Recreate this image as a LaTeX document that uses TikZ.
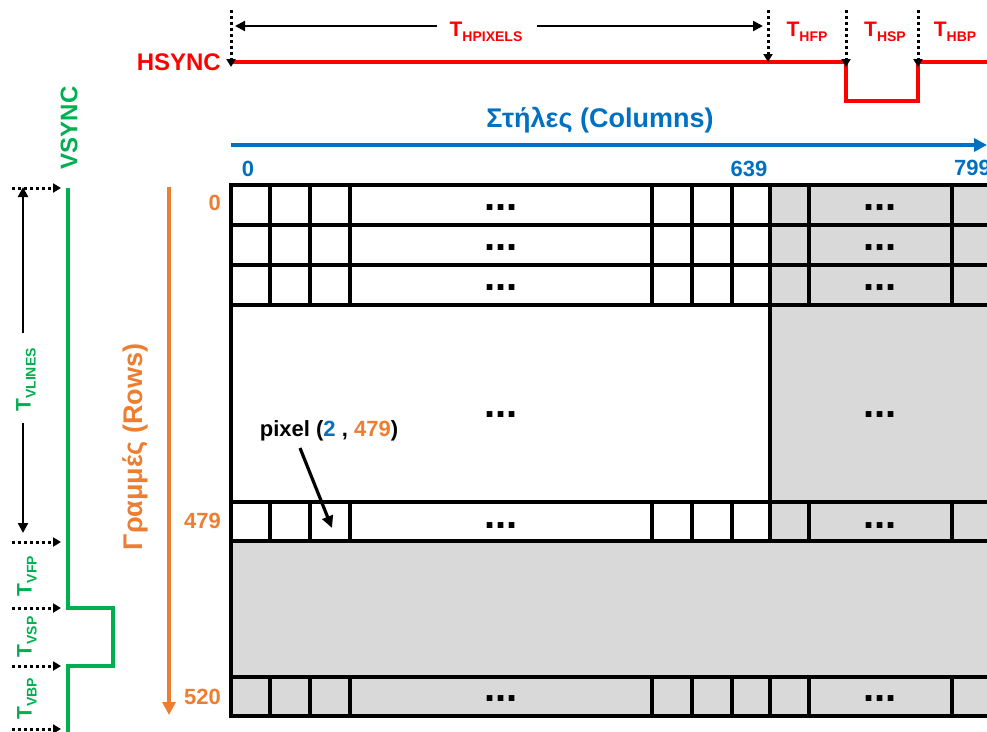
\documentclass[tikz,border=0pt]{standalone}
\usepackage{fontspec}
\setmainfont{Liberation Sans}
\usepackage{xcolor}
\usepackage{tikz}
\usetikzlibrary{arrows.meta, positioning}
\definecolor{vgared}{RGB}{255, 0, 0}
\definecolor{vgagreen}{RGB}{0, 176, 80}
\definecolor{vgablue}{RGB}{0, 112, 192}
\definecolor{vgaorange}{RGB}{237, 125, 49}
\definecolor{vgagray}{RGB}{217, 217, 217}
\newcommand{\tlbl}[1]{{\fontsize{21}{21}\selectfont T}\raisebox{-5pt}{\fontsize{14}{14}\selectfont #1}}

\begin{document}
\begin{tikzpicture}[x=1pt,y=-1pt,
  cellline/.style={line width=3.5pt, line cap=rect},
  sigline/.style={line width=4pt, line join=miter},
  tickarrow/.style={line width=3pt, dash pattern=on 3pt off 3pt, -{Triangle[length=8pt,width=9pt]}},
  spanarrow/.style={line width=2.2pt, -{Triangle[length=10pt,width=10pt]}},
  axisarrow/.style={line width=3.4pt, -{Triangle[length=13pt,width=13pt]}},
  lbl/.style={font=\bfseries, inner sep=0pt},
  dotsnode/.style={font=\fontsize{40}{40}\selectfont\bfseries, inner sep=0pt}]
\useasboundingbox (0,0) rectangle (987,731);

% Grey (blanking) areas
\fill[vgagray] (770,185) rectangle (995,541);
\fill[vgagray] (231,541) rectangle (995,716);

% Pixel grid
\foreach \y in {185,225,265,305,502,541,677,716}
  \draw[cellline] (231,\y) -- (995,\y);
\foreach \a/\b in {185/305, 502/541, 677/716}
  \foreach \x in {270,310,350,652,692,732,770,809,952}
    \draw[cellline] (\x,\a) -- (\x,\b);
\draw[cellline] (770,305) -- (770,502);
\draw[cellline] (231,185) -- (231,716);
\foreach \y [count=\i] in {208,248,288,415,526,699} {
  \node[dotsnode] (dl\i) at (501,\y) {...};
  \node[dotsnode] (dr\i) at (880,\y) {...};
}

% HSYNC
\coordinate (hs0) at (231,62);
\coordinate (hs1) at (846,62);
\coordinate (hs2) at (918,62);
\coordinate (hsend) at (995,62);
\draw[sigline, vgared] (hs0) -- (hs1) -- ++(0,39) -| (hs2) -- (hsend);
\node[lbl, vgared, font=\fontsize{24}{24}\selectfont\bfseries, left=10pt of hs0] (hsync) {HSYNC};

\coordinate (hpx) at (768,57);
\foreach \n/\p in {t0/hs0, t1/hpx, t2/hs1, t3/hs2}
  \draw[tickarrow] (\p |- 0,10) coordinate (\n) -- ([yshift=-5pt]\p);

\coordinate (hpl) at (235,26);
\coordinate (hpr) at (763,26);
\coordinate (hpa) at (437,26);
\coordinate (hpb) at (537,26);
\draw[spanarrow] (hpa) -- (hpl);
\draw[spanarrow] (hpb) -- (hpr);
\node[lbl, vgared] (thpix) at (486,32) {\tlbl{HPIXELS}};
\node[lbl, vgared] (thfp) at (807,32) {\tlbl{HFP}};
\node[lbl, vgared] (thsp) at (885,32) {\tlbl{HSP}};
\node[lbl, vgared] (thbp) at (955,32) {\tlbl{HBP}};

% VSYNC
\coordinate (vs0) at (68,188);
\coordinate (vs1) at (68,608);
\coordinate (vs2) at (68,666);
\coordinate (vsend) at (68,740);
\draw[sigline, line width=3.4pt, vgagreen] (vs0) -- (vs1) -- ++(45,0) |- (vs2) -- (vsend);
\node[lbl, vgagreen, rotate=90, font=\fontsize{24}{24}\selectfont\bfseries] (vsync) at (69,128) {VSYNC};

\foreach \n/\y in {l0/188, l1/542, l2/608, l3/666, l4/729}
  \draw[tickarrow] (12,\y) coordinate (\n) -- (61,\y);

\coordinate (vtop) at (23,187);
\coordinate (vbot) at (23,533);
\coordinate (vma) at (23,333);
\coordinate (vmb) at (23,423);
\draw[spanarrow] (vma) -- (vtop);
\draw[spanarrow] (vmb) -- (vbot);
\node[lbl, vgagreen, rotate=90] (tvlines) at (26,380) {\tlbl{VLINES}};
\node[lbl, vgagreen, rotate=90] (tvfp) at (27,576) {\tlbl{VFP}};
\node[lbl, vgagreen, rotate=90] (tvsp) at (27,637) {\tlbl{VSP}};
\node[lbl, vgagreen, rotate=90] (tvbp) at (27,699) {\tlbl{VBP}};

% Columns
\coordinate (cl) at (231,145);
\coordinate (cr) at (987,145);
\draw[axisarrow, vgablue] (cl) -- (cr);
\node[lbl, vgablue, font=\fontsize{27}{27}\selectfont\bfseries] (cols) at (600,120) {Στήλες (Columns)};
\node[lbl, vgablue, font=\fontsize{22}{22}\selectfont\bfseries] (c0) at (248,169) {0};
\node[lbl, vgablue, font=\fontsize{22}{22}\selectfont\bfseries] (c639) at (749,169) {639};
\node[lbl, vgablue, font=\fontsize{22}{22}\selectfont\bfseries, anchor=west] (c799) at (954,168) {799};

% Rows
\coordinate (rt) at (169,187);
\coordinate (rb) at (169,715);
\draw[axisarrow, line width=3.2pt, vgaorange] (rt) -- (rb);
\node[lbl, vgaorange, rotate=90, font=\fontsize{27}{27}\selectfont\bfseries] (rows) at (135,447) {Γραμμές (Rows)};
\node[lbl, vgaorange, font=\fontsize{22}{22}\selectfont\bfseries, anchor=east] (r0) at (221,203) {0};
\node[lbl, vgaorange, font=\fontsize{22}{22}\selectfont\bfseries, anchor=east] (r479) at (221,521) {479};
\node[lbl, vgaorange, font=\fontsize{22}{22}\selectfont\bfseries, anchor=east] (r520) at (221,697) {520};

% Pixel (2, 479)
\node[lbl, font=\fontsize{22}{22}\selectfont\bfseries] (pix) at (329,431) {pixel (\textcolor{vgablue}{2} , \textcolor{vgaorange}{479})};
\coordinate (pstart) at (300,448);
\coordinate (pcell) at (332,528);
\draw[line width=3.2pt, -{Triangle[length=12pt,width=11pt]}] (pstart) -- (pcell);
\end{tikzpicture}
\end{document}
